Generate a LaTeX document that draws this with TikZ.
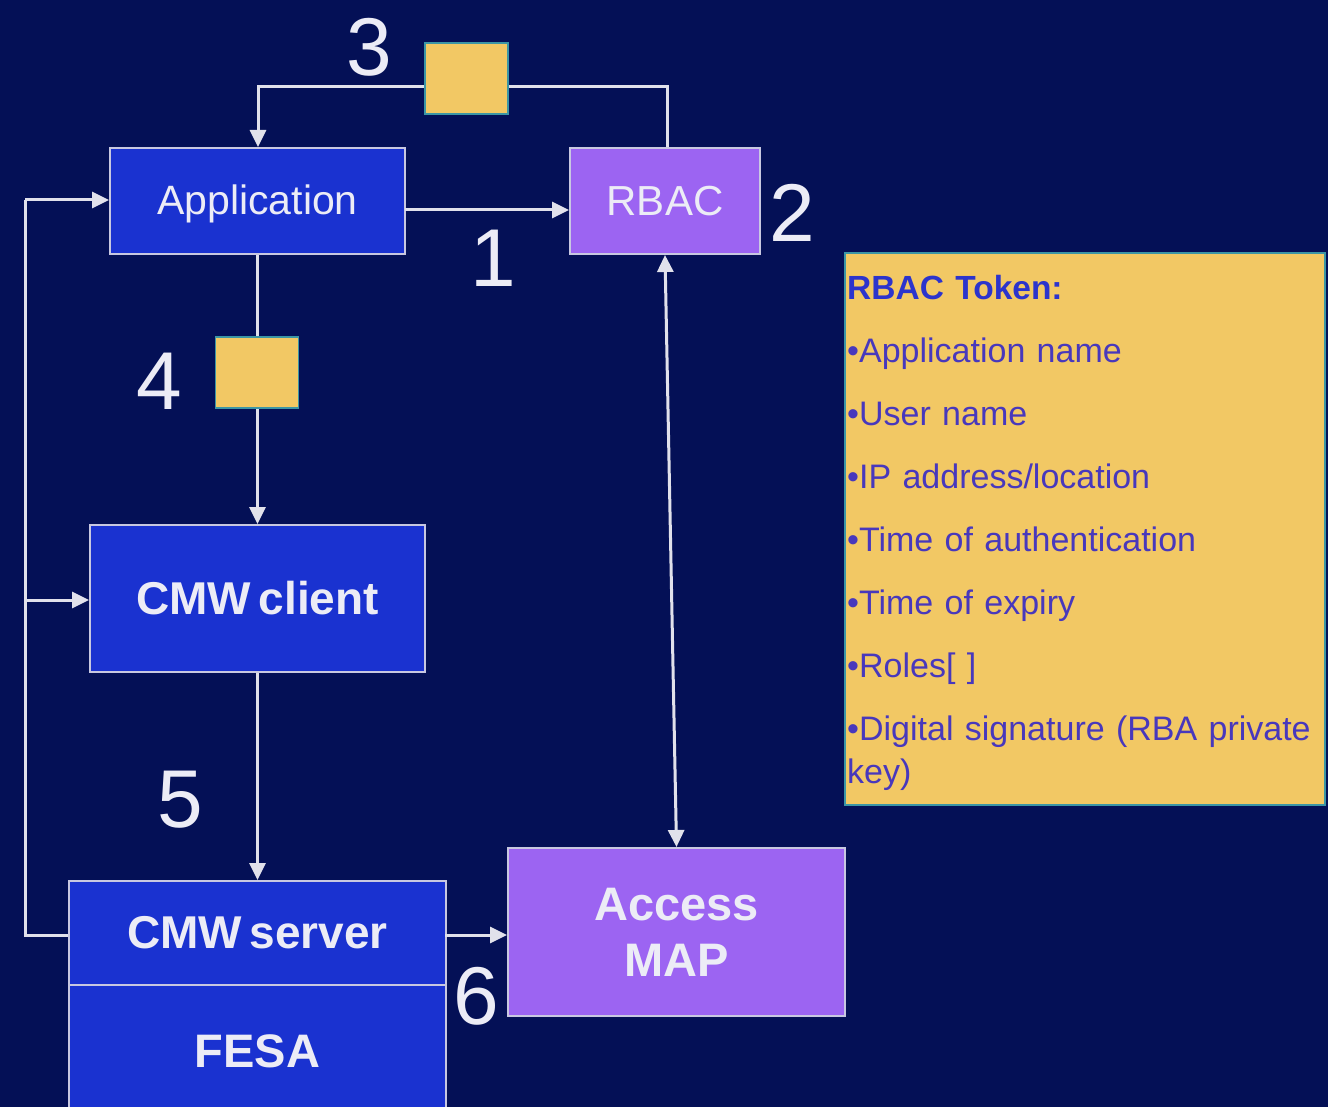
\documentclass[tikz,border=0pt]{standalone}
\usepackage{fontspec}
\setmainfont{Liberation Sans}
\usetikzlibrary{arrows.meta}

\definecolor{bgnavy}{RGB}{4,16,86}
\definecolor{boxblue}{RGB}{26,50,208}
\definecolor{boxpurple}{RGB}{156,100,242}
\definecolor{tokenyellow}{RGB}{242,200,100}
\definecolor{wire}{RGB}{225,225,235}
\definecolor{rim}{RGB}{200,200,225}
\definecolor{labelwhite}{RGB}{236,236,246}
\definecolor{tokenrim}{RGB}{60,150,165}
\definecolor{tokentext}{RGB}{72,56,188}
\definecolor{tokentitle}{RGB}{44,52,204}

% place a label's baseline a given distance below the node centre
\newcommand{\baselineat}[2]{\raisebox{-#1}[0pt][0pt]{#2}}

\tikzset{
  blockbase/.style={draw=rim, line width=2pt, inner sep=0pt, text=labelwhite, align=center},
  bluebox/.style={blockbase, fill=boxblue},
  purplebox/.style={blockbase, fill=boxpurple},
  tokensq/.style={draw=tokenrim, line width=1.5pt, fill=tokenyellow, inner sep=0pt,
                  minimum width=83pt, minimum height=71pt},
  stepno/.style={text=labelwhite, inner sep=0pt, font=\fontsize{82}{82}\selectfont},
  wireline/.style={draw=wire, line width=3pt},
  flow/.style={wireline, -{Triangle[length=17pt,width=16pt]}},
  bothflow/.style={wireline, {Triangle[length=17pt,width=16pt]}-{Triangle[length=17pt,width=16pt]}},
}

\begin{document}
\begin{tikzpicture}[x=1pt,y=-1pt]
  % canvas
  \useasboundingbox (0,0) rectangle (1328,1107);
  \clip (0,0) rectangle (1328,1107);
  \fill[bgnavy] (0,0) rectangle (1328,1107);

  % main blocks
  \node[bluebox, minimum width=295pt, minimum height=106pt,
        font=\fontsize{41}{41}\selectfont] (app) at (257.5,201) {\baselineat{14pt}{Application}};
  \node[purplebox, minimum width=190pt, minimum height=106pt,
        font=\fontsize{42}{42}\selectfont] (rbac) at (665,201) {RBAC};
  \node[bluebox, minimum width=335pt, minimum height=147pt,
        font=\bfseries\fontsize{46}{46}\selectfont] (client) at (257.5,598.5) {CMW\,client};
  \node[bluebox, minimum width=377pt, minimum height=104pt,
        font=\bfseries\fontsize{46}{46}\selectfont] (server) at (257.5,933) {CMW\,server};
  \node[bluebox, minimum width=377pt, minimum height=140pt,
        font=\bfseries\fontsize{47}{47}\selectfont] (fesa) at (257.5,1055) {\baselineat{12pt}{FESA}};
  \node[purplebox, minimum width=337pt, minimum height=168pt,
        font=\bfseries\fontsize{47}{56}\selectfont] (map) at (676.5,932) {Access\\MAP};

  % connectors
  \coordinate (topL) at (258,87);
  \coordinate (topR) at (667,87);
  \draw[flow] (rbac.north -| topR) -- (topR) -- (topL) -- (app.north -| topL);
  \coordinate (a1) at (405,210);
  \draw[flow] (a1) -- (a1 -| rbac.west);
  \draw[flow] (app.south) -- (client.north);
  \draw[flow] (client.south) -- (client.south |- server.north);
  \coordinate (s6) at (445,935);
  \draw[flow] (s6) -- (s6 -| map.west);
  \draw[bothflow] (rbac.south) -- (map.north);
  \coordinate (loopB) at (25,935);
  \coordinate (loopT) at (25,200);
  \coordinate (loopM) at (25,600);
  \draw[wireline] (server.west |- loopB) -- (loopB) -- (loopT);
  \draw[flow] (loopT) -- (app.west |- loopT);
  \draw[flow] (loopM) -- (client.west |- loopM);

  % tokens carried along the connectors
  \node[tokensq] (tok3) at (466.5,78.5) {};
  \node[tokensq] (tok4) at (257,372.5) {};

  % step numbers
  \node[stepno] (n3) at (369,47) {3};
  \node[stepno] (n1) at (493,258) {1};
  \node[stepno] (n2) at (792,213) {2};
  \node[stepno] (n4) at (159,381) {4};
  \node[stepno] (n5) at (180,800) {5};
  \node[stepno] (n6) at (476,996) {6};

  % token contents
  \node[draw=tokenrim, line width=2pt, fill=tokenyellow, inner sep=0pt,
        minimum width=480pt, minimum height=552pt] (tokbox) at (1085,529) {};
  \node[anchor=north west, inner sep=0pt, align=left, text width=476pt,
        text=tokentext, font=\fontsize{34}{43}\selectfont] (toktext) at (847,275)
  {{\color{tokentitle}\bfseries\fontsize{33.5}{43}\selectfont RBAC Token:}\\[20pt]
   •Application name\\[20pt]
   •User name\\[20pt]
   •IP address/location\\[20pt]
   •Time of authentication\\[20pt]
   •Time of expiry\\[20pt]
   •Roles[ ]\\[20pt]
   •Digital signature (RBA private\\
   key)};
\end{tikzpicture}
\end{document}
